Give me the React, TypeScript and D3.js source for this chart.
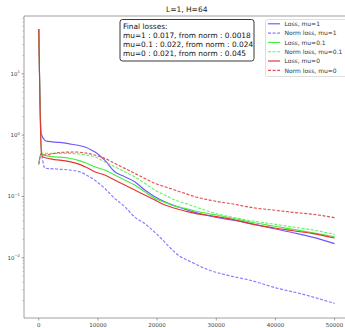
import React from "react";
import * as d3 from "d3";

type P = [number, number];

const lossMu1: P[] = [[0,54],[400,1.07],[1000,0.83],[1500,0.79],[3500,0.76],[5200,0.72],[7000,0.67],[8000,0.63],[8800,0.58],[9440,0.536],[11140,0.39],[12830,0.253],[14530,0.21],[16220,0.174],[17920,0.127],[19610,0.099],[21310,0.082],[23000,0.0705],[24700,0.062],[26400,0.055],[29440,0.0467],[32830,0.041],[36220,0.0355],[39600,0.03],[43000,0.0256],[46400,0.0215],[50000,0.017]];
const normMu1: P[] = [[0,0.35],[400,0.47],[1000,0.29],[3000,0.28],[5200,0.27],[7000,0.25],[8000,0.225],[9440,0.185],[11140,0.1356],[12830,0.093],[14530,0.068],[16220,0.046],[17920,0.036],[19610,0.026],[21000,0.0192],[22000,0.0152],[22900,0.0125],[23900,0.0105],[25500,0.0088],[28400,0.0065],[31800,0.0052],[35700,0.0043],[40200,0.0032],[44200,0.0026],[50000,0.0018]];
const lossMu01: P[] = [[0,54],[450,0.55],[700,0.474],[2000,0.45],[5200,0.42],[7000,0.38],[8000,0.35],[9440,0.305],[11140,0.27],[12830,0.2235],[14530,0.185],[16220,0.1535],[17920,0.119],[19610,0.093],[21310,0.08],[23000,0.0695],[24700,0.064],[26400,0.058],[29440,0.051],[32830,0.044],[36220,0.0375],[39600,0.033],[43000,0.029],[46400,0.0255],[50000,0.022]];
const normMu01: P[] = [[0,0.35],[400,0.5],[700,0.505],[5200,0.505],[7000,0.49],[8000,0.474],[9440,0.444],[11140,0.368],[12830,0.305],[14530,0.253],[16220,0.2096],[17920,0.1636],[19610,0.127],[21310,0.1054],[23000,0.0874],[24700,0.0772],[26400,0.068],[29440,0.0542],[32830,0.0456],[36220,0.0397],[39600,0.0355],[43000,0.0317],[46400,0.0283],[50000,0.024]];
const lossMu0: P[] = [[0,54],[450,0.5],[700,0.44],[2000,0.41],[5200,0.37],[7000,0.33],[8000,0.3],[9440,0.253],[11140,0.2235],[12830,0.185],[14530,0.1535],[16220,0.127],[17920,0.1054],[19610,0.0874],[21310,0.0724],[23000,0.064],[24700,0.058],[26400,0.053],[29440,0.0479],[32830,0.042],[36220,0.0351],[39600,0.0309],[43000,0.0276],[46400,0.0247],[50000,0.021]];
const normMu0: P[] = [[0,0.33],[400,0.5],[1000,0.474],[3500,0.52],[6000,0.53],[8000,0.51],[9440,0.474],[11140,0.418],[12830,0.347],[14530,0.287],[16220,0.238],[17920,0.197],[19610,0.1636],[21310,0.144],[23000,0.127],[24700,0.1123],[26400,0.099],[29440,0.0851],[32830,0.0752],[36220,0.0654],[39600,0.06],[43000,0.055],[46400,0.051],[50000,0.045]];

const seriesNames = ["Loss, mu=1","Norm loss, mu=1","Loss, mu=0.1","Norm loss, mu=0.1","Loss, mu=0","Norm loss, mu=0"];
const seriesData = [lossMu1, normMu1, lossMu01, normMu01, lossMu0, normMu0];
const seriesColors = ["#7058ff","#8a78ff","#44ee44","#66f066","#e83232","#e05252"];
const seriesDashed = [false,true,false,true,false,true];

const xTicks = [0,10000,20000,30000,40000,50000];
const yTickExps = [1,0,-1,-2];
const titleText = "L=1, H=64";
const boxLines = ["Final losses:","mu=1 : 0.017, from norm : 0.0018","mu=0.1 : 0.022, from norm : 0.024","mu=0 : 0.021, from norm : 0.045"];

export default function App() {
  const W = 345, H = 328;
  const left = 24, right = 349.4, top = 16, bottom = 318;
  const x = d3.scaleLinear().domain([-2500, 52500]).range([left, right]);
  const y = d3.scaleLog().domain([0.00104, 87.8]).range([bottom, top]);
  const line = d3.line<P>().x(d => x(d[0])).y(d => y(d[1])).curve(d3.curveMonotoneX);
  const minor: number[] = [];
  for (let e = -3; e <= 1; e++) for (let m = 2; m <= 9; m++) {
    const v = m * Math.pow(10, e);
    if (v >= 0.00104 && v <= 87.8) minor.push(v);
  }
  const font = "DejaVu Sans, sans-serif";
  return (
    <svg width={W} height={H} style={{ position: "absolute", left: 0, top: 0, background: "#fff" }} fontFamily={font}>
      <defs>
        <clipPath id="clip"><rect x={left} y={top} width={right - left} height={bottom - top} /></clipPath>
      </defs>
      <rect x={0} y={0} width={W} height={H} fill="#fff" />
      <text x={(left + right) / 2} y={12} textAnchor="middle" fontSize={7.5} fill="#222">{titleText}</text>
      <g clipPath="url(#clip)">
        {seriesData.map((d, i) => (
          <path key={i} d={line(d) || ""} fill="none" stroke={seriesColors[i]} strokeWidth={1.15}
            strokeDasharray={seriesDashed[i] ? "3,1.6" : undefined} />
        ))}
      </g>
      <line x1={left} x2={left} y1={top} y2={bottom} stroke="#888" strokeWidth={0.8} />
      <line x1={left} x2={right} y1={bottom} y2={bottom} stroke="#888" strokeWidth={0.8} />
      <line x1={left} x2={right} y1={top} y2={top} stroke="#888" strokeWidth={0.8} />
      {xTicks.map(t => (
        <g key={t}>
          <line x1={x(t)} x2={x(t)} y1={bottom} y2={bottom + 2.5} stroke="#666" strokeWidth={0.6} />
          <text x={x(t)} y={bottom + 8.5} textAnchor="middle" fontSize={5.5} fill="#444">{t}</text>
        </g>
      ))}
      {yTickExps.map(e => (
        <g key={e}>
          <line x1={left - 2.5} x2={left} y1={y(Math.pow(10, e))} y2={y(Math.pow(10, e))} stroke="#666" strokeWidth={0.6} />
          <text x={left - 4} y={y(Math.pow(10, e)) + 2} textAnchor="end" fontSize={5.5} fill="#444">
            10<tspan dy={-2.5} fontSize={3.8}>{e < 0 ? "\u2212" + Math.abs(e) : String(e)}</tspan>
          </text>
        </g>
      ))}
      {minor.map((v, i) => (
        <line key={i} x1={left - 1.4} x2={left} y1={y(v)} y2={y(v)} stroke="#888" strokeWidth={0.5} />
      ))}
      <rect x={120} y={19.5} width={134} height={41.5} rx={2.5} fill="#fff" stroke="#222" strokeWidth={0.9} />
      {boxLines.map((s, i) => (
        <text key={i} x={123} y={28.5 + i * 9.1} fontSize={7.4} fill="#111">{s}</text>
      ))}
      <rect x={265.5} y={19.5} width={90} height={57} rx={2} fill="#fff" stroke="#d6d6d6" strokeWidth={0.8} />
      {seriesNames.map((n, i) => (
        <g key={n}>
          <line x1={268} x2={280} y1={23.8 + i * 9.3} y2={23.8 + i * 9.3} stroke={seriesColors[i]} strokeWidth={1.15}
            strokeDasharray={seriesDashed[i] ? "3,1.6" : undefined} />
          <text x={284.5} y={26 + i * 9.3} fontSize={6} fill="#333">{n}</text>
        </g>
      ))}
    </svg>
  );
}
